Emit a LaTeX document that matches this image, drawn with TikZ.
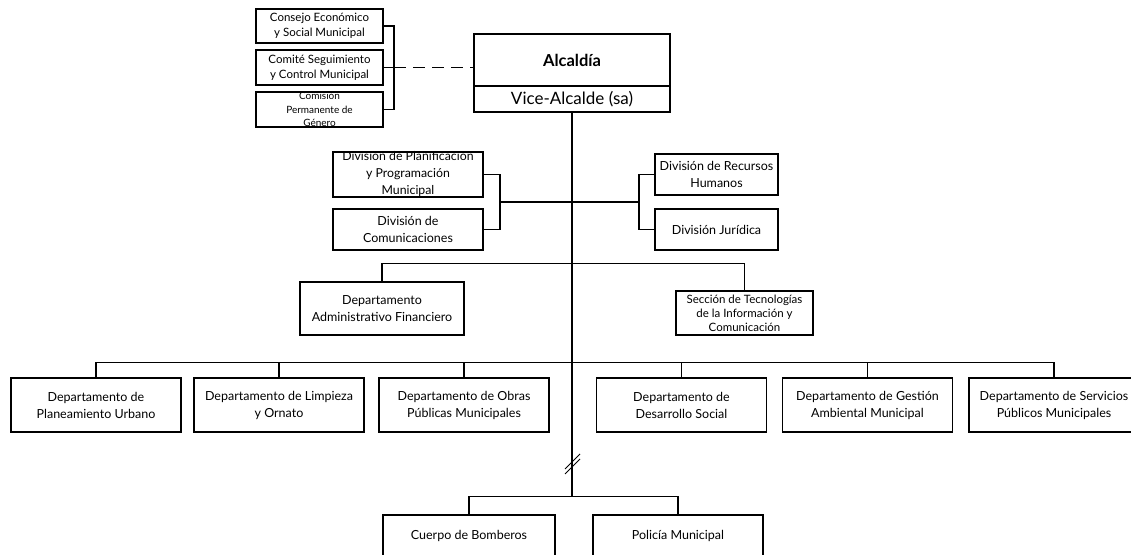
\documentclass[tikz,border=0pt]{standalone}
\usepackage{fontspec}
\setmainfont{Lato}
\begin{document}
\begin{tikzpicture}[x=1pt,y=-1pt,
  line/.style={line width=1.3pt},
  box/.style={draw, line width=1.3pt, align=center, inner sep=0pt, fill=white,
    font=\fontsize{12.5}{17}\selectfont},
  sbox/.style={box, font=\fontsize{11.5}{15}\selectfont},
  bbox/.style={box, minimum width=170, minimum height=54}]
\useasboundingbox[fill=white] (0,0) rectangle (1131,554);
% top left boxes
\node[sbox, minimum width=127, minimum height=34] (cons) at (319.5,26) {Consejo Económico\\y Social Municipal};
\node[sbox, minimum width=127, minimum height=35] (comi) at (319.5,67.5) {Comité Seguimiento\\y Control Municipal};
\node[sbox, minimum width=127, minimum height=35, font=\fontsize{10}{13.5}\selectfont] (comis) at (319.5,109.5) {Comisión\\Permanente de\\Género};
% alcaldia
\node[box, minimum width=196, minimum height=52, font=\fontsize{16.5}{18}\bfseries] (alc) at (572,60) {Alcaldía};
\node[box, minimum width=196, minimum height=26, font=\fontsize{17}{18}\selectfont] (vice) at (572,99) {Vice-Alcalde (sa)};
% divisions
\node[box, minimum width=150, minimum height=41, font=\fontsize{12.3}{17}\selectfont] (plan) at (408,174.5) {División de Planificación\\y Programación\\Municipal};
\node[box, minimum width=150, minimum height=41] (comu) at (408,229.5) {División de\\Comunicaciones};
\node[box, minimum width=123, minimum height=41] (rrhh) at (716.5,174.5) {División de Recursos\\Humanos};
\node[box, minimum width=123, minimum height=41] (jur) at (716.5,229.5) {División Jurídica};
% second level
\node[box, minimum width=164, minimum height=53] (adm) at (382,308.5) {Departamento\\Administrativo Financiero};
\node[sbox, minimum width=137, minimum height=44, font=\fontsize{11.5}{14}\selectfont] (sec) at (744.5,313) {Sección de Tecnologías\\de la Información y\\Comunicación};
% departments
\node[bbox] (pla) at (96,405) {Departamento de\\Planeamiento Urbano};
\node[bbox] (lim) at (279,405) {Departamento de Limpieza\\y Ornato};
\node[bbox] (obr) at (464,405) {Departamento de Obras\\Públicas Municipales};
\node[bbox] (des) at (681.5,405) {Departamento de\\Desarrollo Social};
\node[bbox] (ges) at (867.5,405) {Departamento de Gestión\\Ambiental Municipal};
\node[bbox] (ser) at (1054,405) {Departamento de Servicios\\Públicos Municipales};
% bottom
\node[box, minimum width=172, minimum height=42] (bomb) at (469,536) {Cuerpo de Bomberos};
\node[box, minimum width=170, minimum height=42] (pol) at (678,536) {Policía Municipal};
% connectors top-left
\coordinate (br) at (394,67.5);
\draw[line] (cons.east) -| (br) |- (comis.east);
\draw[line] (comi.east) -- (br);
\draw[line, dash pattern=on 12pt off 7pt] (br) -- (br -| alc.west);
% main trunk
\coordinate (fork) at (572,497);
\draw[line] (vice.south) -- (fork);
% divisions
\coordinate (lb) at (500,202);
\coordinate (rb) at (639,202);
\coordinate (mid) at (572,202);
\draw[line] (plan.east) -| (lb) |- (comu.east);
\draw[line] (lb) -- (mid) -- (rb);
\draw[line] (rrhh.west) -| (rb) |- (jur.west);
% second level
\draw[line] (adm.north) -- ++(0,-18) -| (sec.north);
% departments
\draw[line] (pla.north) -- ++(0,-15) -| (ser.north);
\foreach \n in {lim,obr,des,ges} \draw[line] (\n.north) -- ++(0,-15);
% bottom fork
\draw[line] (bomb.north) -- ++(0,-18) -| (pol.north);
% break mark
\draw[line width=1pt] (565,474) -- (580,459);
\draw[line width=1pt] (565,469) -- (580,454);
\end{tikzpicture}
\end{document}
